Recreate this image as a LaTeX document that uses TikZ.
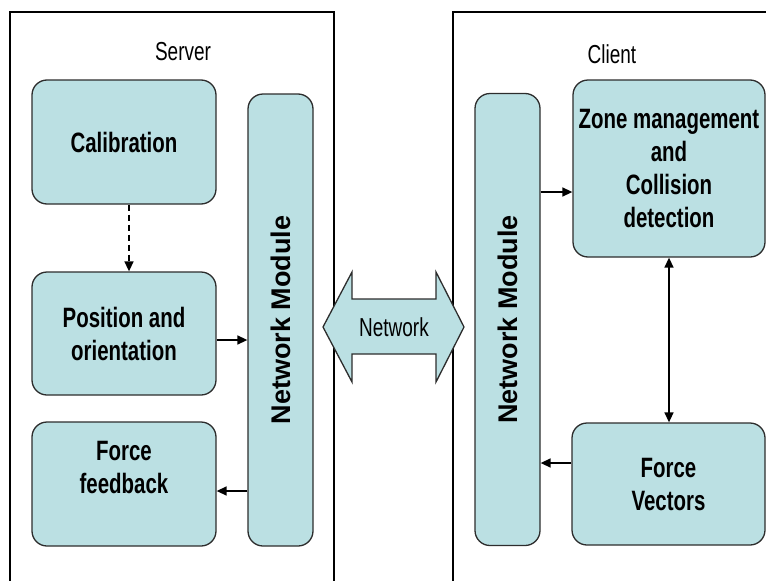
\documentclass[tikz,border=0pt]{standalone}
\usepackage{fontspec}
\setmainfont[FakeStretch=0.73]{Liberation Sans}
\newfontfamily\widesans{Liberation Sans}
\usepackage{graphicx}
\usetikzlibrary{arrows.meta}
\definecolor{boxcyan}{RGB}{187,224,227}
\definecolor{boxline}{RGB}{45,45,45}

\begin{document}
\begin{tikzpicture}[x=1pt,y=-1pt,>={Triangle[length=10pt,width=9pt]},
  block/.style={draw=boxline,line width=1.3pt,fill=boxcyan,rounded corners=15pt,
    align=center,inner sep=0pt,font=\bfseries\fontsize{28}{33}\selectfont},
  netmod/.style={block,minimum width=65pt,minimum height=452pt,
    font=\widesans\bfseries\fontsize{27}{30}\selectfont},
  title/.style={font=\fontsize{26}{30}\selectfont},
  conn/.style={line width=1.5pt}]
  \useasboundingbox (0,0) rectangle (766,581);
  % server and client frames
  \draw[line width=1.2pt] (10,581) -- (10,12) -- (334,12) -- (334,581);
  \draw[line width=1.2pt] (453,581) -- (453,12) -- (766,12);
  \node[title] (server) at (183,52) {Server};
  \node[title] (client) at (612,54) {Client};
  % server side
  \node[block,minimum width=184pt,minimum height=124pt] (calib) at (124,142) {Calibration};
  \node[block,minimum width=184pt,minimum height=123pt] (posit) at (124,333.5) {Position and\\orientation};
  \node[block,minimum width=184pt,minimum height=124pt] (feedb) at (124,484) {Force\\feedback\\\mbox{}};
  \node[netmod] (netL) at (280.5,320) {\rotatebox{90}{Network Module}};
  % client side
  \node[netmod] (netR) at (507.5,319.5) {\rotatebox{90}{Network Module}};
  \node[block,minimum width=192pt,minimum height=177pt] (zone) at (669,168.5) {Zone management\\and\\Collision\\detection};
  \node[block,minimum width=193pt,minimum height=122pt] (vect) at (668.5,484) {Force\\Vectors};
  % network
  \draw[draw=boxline,line width=1.3pt,fill=boxcyan] (323,327) -- (352,272) -- (352,299) -- (436,299)
    -- (436,272) -- (464,327) -- (436,382) -- (436,354) -- (352,354) -- (352,382) -- cycle;
  \node[title] (net) at (394,327) {Network};
  % connectors
  \draw[conn,->,dash pattern=on 6pt off 4pt] ([xshift=5pt]calib.south) -- ([xshift=5pt]posit.north);
  \draw[conn,->] ([yshift=-6.5pt]posit.east) -- ([yshift=-6.5pt]posit.east -| netL.west);
  \draw[conn,->] ([yshift=-7pt]feedb.east -| netL.west) -- ([yshift=-7pt]feedb.east);
  \draw[conn,->] ([yshift=-23.5pt]zone.west -| netR.east) -- ([yshift=-23.5pt]zone.west);
  \draw[conn,<->] (zone.south) -- (zone.south |- vect.north);
  \draw[conn,->] ([yshift=21pt]vect.west) -- ([yshift=21pt]vect.west -| netR.east);
\end{tikzpicture}
\end{document}
